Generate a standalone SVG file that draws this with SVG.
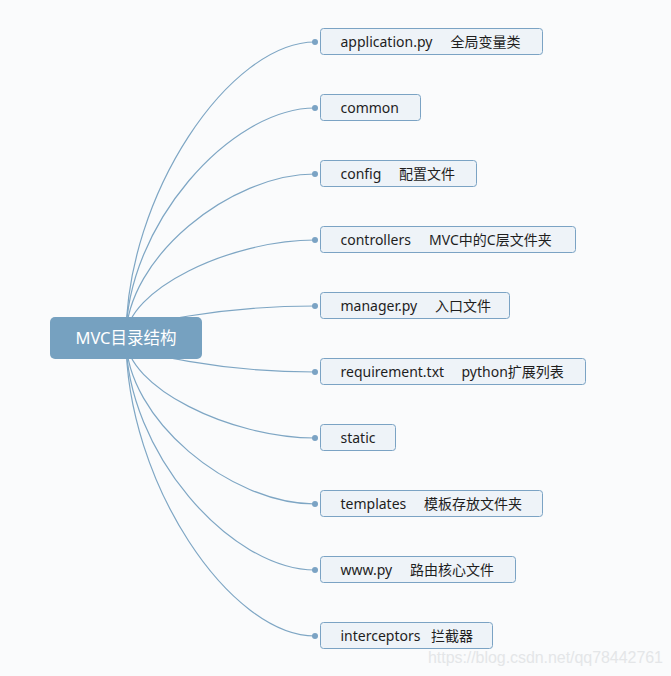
<svg xmlns="http://www.w3.org/2000/svg" width="671" height="676" viewBox="0 0 671 676">
<style>
.bg{fill:#fafbfc}
.box{fill:#eef3f8;stroke:#7ba3c4;stroke-width:1}
.lbl{font-family:"Noto Sans","Noto Sans CJK SC",sans-serif;font-size:14px;fill:#1e1e1e}
.conn path{fill:none;stroke:#7ea6c4;stroke-width:1.2}
.conn circle{fill:#7ba3c4}
.root rect{fill:#76a1c0}
.root text{font-family:"Noto Sans","Noto Sans CJK SC",sans-serif;font-size:16.5px;fill:#ffffff}
.wm{font-family:"Liberation Sans",Arial,sans-serif;font-size:16px;fill:#e4e6e8}
</style>
<rect class="bg" x="0" y="0" width="671" height="676"/>
<g id="connectors" class="conn">
<path d="M126,338 C126,195 230,42 315,42"/>
<path d="M126,338 C126,226 230,108 315,108"/>
<path d="M126,338 C126,258 230,174 315,174"/>
<path d="M126,338 C126,290 230,240 315,240"/>
<path d="M126,338 C126,322 230,306 315,306"/>
<path d="M126,338 C126,355 230,372 315,372"/>
<path d="M126,338 C126,387 230,438 315,438"/>
<path d="M126,338 C126,419 230,504 315,504"/>
<path d="M126,338 C126,451 230,570 315,570"/>
<path d="M126,338 C126,482 230,636 315,636"/>
<circle cx="315" cy="42" r="3"/>
<circle cx="315" cy="108" r="3"/>
<circle cx="315" cy="174" r="3"/>
<circle cx="315" cy="240" r="3"/>
<circle cx="315" cy="306" r="3"/>
<circle cx="315" cy="372" r="3"/>
<circle cx="315" cy="438" r="3"/>
<circle cx="315" cy="504" r="3"/>
<circle cx="315" cy="570" r="3"/>
<circle cx="315" cy="636" r="3"/>
</g>
<g id="root" class="root">
<rect x="50" y="317" width="152" height="42" rx="5"/>
<text x="126" y="344" text-anchor="middle">MVC目录结构</text>
</g>
<g id="n1"><rect class="box" x="320.5" y="28.5" width="222" height="26" rx="3"/><text class="lbl" y="47"><tspan x="340.5">application.py</tspan><tspan x="450.5">全局变量类</tspan></text></g>
<g id="n2"><rect class="box" x="320.5" y="94.5" width="100" height="26" rx="3"/><text class="lbl" y="113"><tspan x="340.5">common</tspan></text></g>
<g id="n3"><rect class="box" x="320.5" y="160.5" width="156" height="26" rx="3"/><text class="lbl" y="179"><tspan x="340.5">config</tspan><tspan x="399">配置文件</tspan></text></g>
<g id="n4"><rect class="box" x="320.5" y="226.5" width="255" height="26" rx="3"/><text class="lbl" y="245"><tspan x="340.5">controllers</tspan><tspan x="429">MVC中的C层文件夹</tspan></text></g>
<g id="n5"><rect class="box" x="320.5" y="292.5" width="189" height="26" rx="3"/><text class="lbl" y="311"><tspan x="340.5">manager.py</tspan><tspan x="435">入口文件</tspan></text></g>
<g id="n6"><rect class="box" x="320.5" y="358.5" width="265" height="26" rx="3"/><text class="lbl" y="377"><tspan x="340.5">requirement.txt</tspan><tspan x="461.5">python扩展列表</tspan></text></g>
<g id="n7"><rect class="box" x="320.5" y="424.5" width="75" height="26" rx="3"/><text class="lbl" y="443"><tspan x="340.5">static</tspan></text></g>
<g id="n8"><rect class="box" x="320.5" y="490.5" width="222" height="26" rx="3"/><text class="lbl" y="509"><tspan x="340.5">templates</tspan><tspan x="424">模板存放文件夹</tspan></text></g>
<g id="n9"><rect class="box" x="320.5" y="556.5" width="195" height="26" rx="3"/><text class="lbl" y="575"><tspan x="340.5">www.py</tspan><tspan x="410">路由核心文件</tspan></text></g>
<g id="n10"><rect class="box" x="320.5" y="622.5" width="172" height="26" rx="3"/><text class="lbl" y="641"><tspan x="340.5">interceptors</tspan><tspan x="431">拦截器</tspan></text></g>
<text class="wm" x="428" y="663" textLength="235">https://blog.csdn.net/qq78442761</text>
</svg>
